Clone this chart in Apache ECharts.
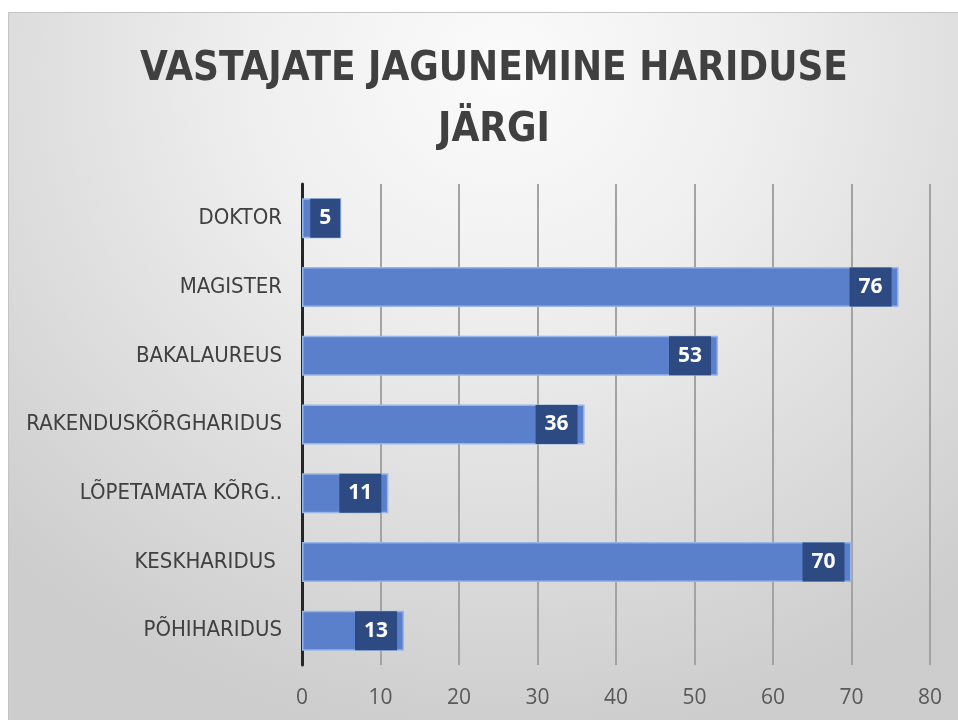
<!DOCTYPE html>
<html>
<head>
<meta charset="utf-8">
<script src="https://cdn.jsdelivr.net/npm/echarts@6/dist/echarts.min.js"></script>
<style>
  html, body { margin: 0; padding: 0; background: #ffffff; }
  #wrap { position: absolute; left: 0; top: 0; width: 958px; height: 720px; background: #ffffff; }
  #panel { position: absolute; left: 8px; top: 12px; width: 950px; height: 708px;
    border-top: 1px solid #c4c4c4; border-left: 1px solid #c4c4c4; box-sizing: border-box;
    background: radial-gradient(ellipse 75% 95% at 52% 8%, #fbfbfb 0%, #efefef 35%, #dfdfdf 65%, #cdcdcd 100%); }
  #chart { position: absolute; left: 0; top: 0; width: 958px; height: 720px; }
</style>
</head>
<body>
<div id="wrap"><div id="panel"></div><div id="chart"></div></div>
<script>
const titleText = 'VASTAJATE JAGUNEMINE HARIDUSE\nJÄRGI';
const categories = ['DOKTOR', 'MAGISTER', 'BAKALAUREUS', 'RAKENDUSKÕRGHARIDUS', 'LÕPETAMATA KÕRG..', 'KESKHARIDUS ', 'PÕHIHARIDUS'];
const values = [5, 76, 53, 36, 11, 70, 13];
const xTicks = { min: 0, max: 80, interval: 10 };

const narrow = '"Liberation Sans Narrow", "DejaVu Sans Condensed", "Arial Narrow", sans-serif';

const chart = echarts.init(document.getElementById('chart'), null, { renderer: 'canvas' });
chart.setOption({
  backgroundColor: 'transparent',
  animation: false,
  title: {
    text: titleText,
    left: 489,
    textAlign: 'center',
    top: 34,
    textStyle: { fontFamily: narrow, fontWeight: 'bold', fontSize: 40, lineHeight: 61, color: '#404040' }
  },
  grid: { left: 302, right: 28, top: 184, bottom: 55, containLabel: false },
  xAxis: {
    type: 'value',
    min: xTicks.min, max: xTicks.max, interval: xTicks.interval,
    axisLine: { show: false },
    axisTick: { show: false },
    splitLine: { show: true, lineStyle: { color: '#a3a3a3', width: 2 } },
    axisLabel: { margin: 23, fontFamily: '"Open Sans", sans-serif', fontSize: 21, color: '#595959' }
  },
  yAxis: {
    type: 'category',
    inverse: true,
    data: categories,
    axisLine: { show: true, lineStyle: { color: '#262626', width: 3 } },
    axisTick: { show: false },
    axisLabel: { margin: 20, fontFamily: narrow, fontSize: 22, color: '#404040' }
  },
  series: [{
    type: 'bar',
    barWidth: 40,
    data: values.map(v => ({ value: v, label: { distance: v < 8 ? 1 : 7 } })),
    itemStyle: { color: '#5a7fcb', borderColor: '#97b5e6', borderWidth: 1.5 },
    label: {
      show: true,
      position: 'insideRight',
      formatter: '{c}',
      color: '#ffffff',
      fontFamily: '"Open Sans", sans-serif',
      fontWeight: 'bold',
      fontSize: 21,
      lineHeight: 21,
      backgroundColor: '#2e4a82',
      padding: [9, 9, 9, 9]
    }
  }]
});
</script>
</body>
</html>
